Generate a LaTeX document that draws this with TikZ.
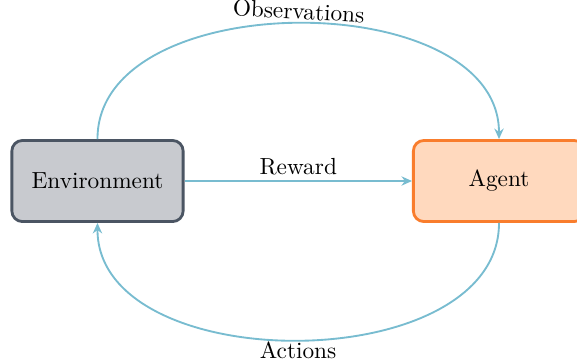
\documentclass[tikz,border=0pt]{standalone}
\usetikzlibrary{arrows.meta}
\definecolor{envfill}{RGB}{200,202,207}
\definecolor{envdraw}{RGB}{75,85,99}
\definecolor{agfill}{RGB}{255,217,190}
\definecolor{agdraw}{RGB}{249,125,45}
\definecolor{link}{RGB}{120,188,208}
\begin{document}
\begin{tikzpicture}[x=0.4292pt,y=-0.4292pt,
  boxstyle/.style={rectangle,rounded corners=4.5pt,line width=1.2pt,minimum width=73.5pt,minimum height=34.8pt,inner sep=0pt},
  envbox/.style={boxstyle,draw=envdraw,fill=envfill},
  agbox/.style={boxstyle,draw=agdraw,fill=agfill},
  linkline/.style={draw=link,line width=0.8pt,-{Stealth[length=4.5pt,width=4pt]}}]
\useasboundingbox (0,0) rectangle (577,363);
\node[envbox] (env) at (97.5,181) {Environment};
\node[agbox] (ag) at (499,181) {Agent};
\draw[linkline] (env.east) -- node[above,inner sep=2pt] {Reward} (ag.west);
\draw[linkline] (env.north) .. controls (97,-15) and (499,-15) .. node[pos=0.5,above,rotate=-3,inner sep=1.2pt] {Observations} (ag.north);
\draw[linkline] (ag.south) .. controls (499,379) and (97,379) .. node[pos=0.5,below,inner sep=0.5pt] {Actions} (env.south);
\end{tikzpicture}
\end{document}
